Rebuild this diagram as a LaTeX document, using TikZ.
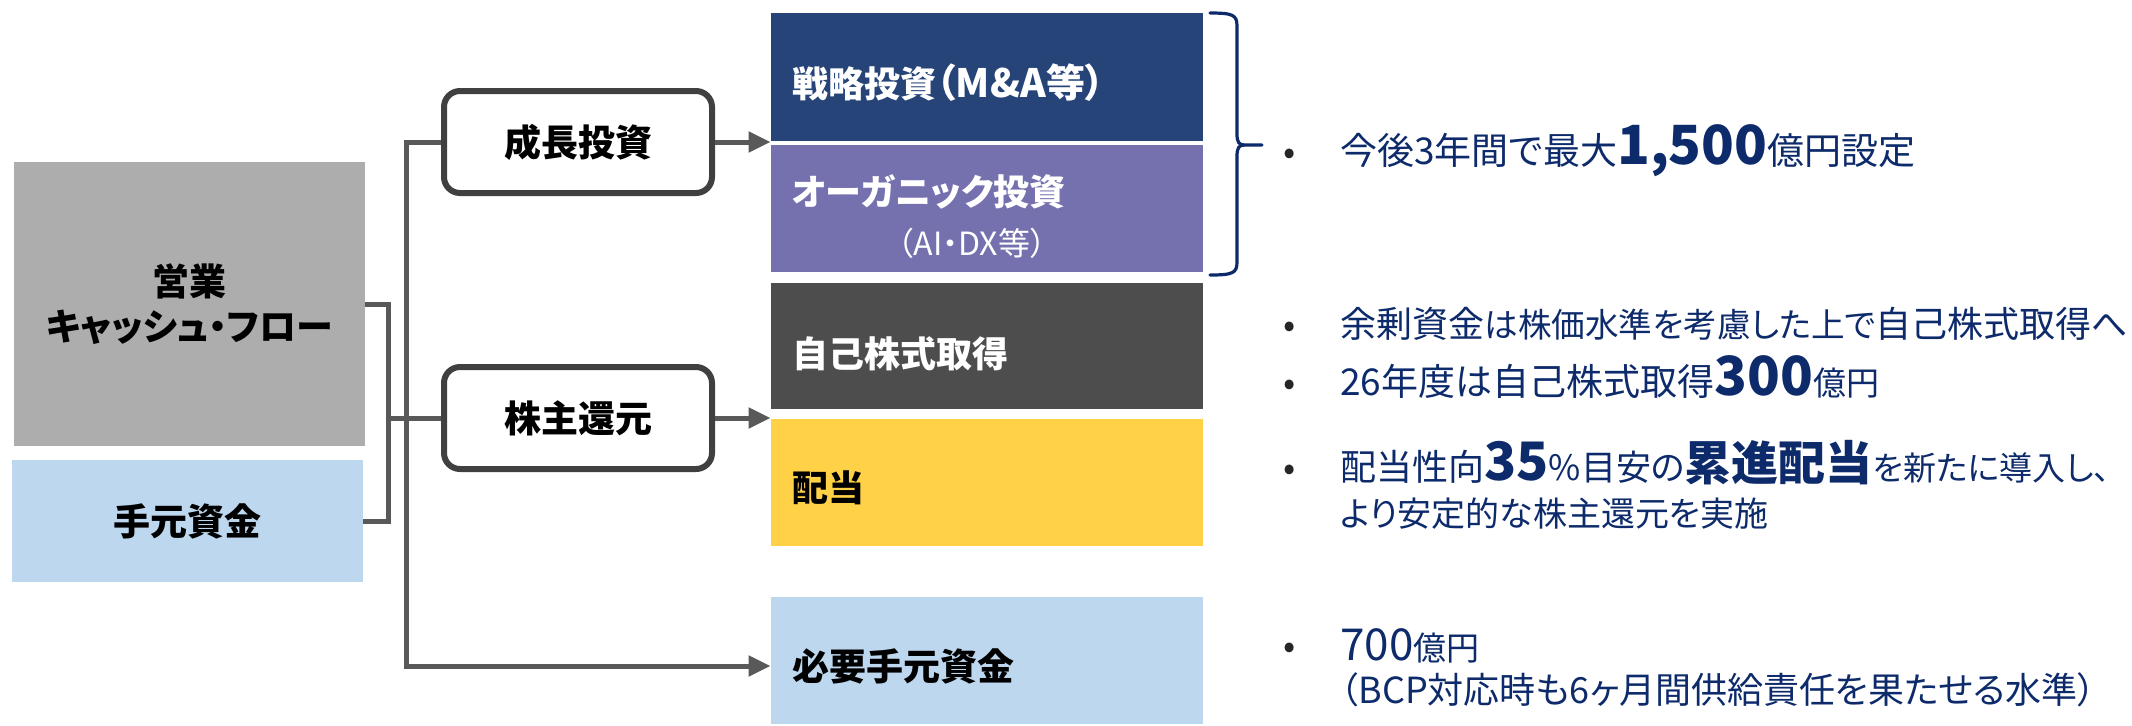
\documentclass[tikz,border=0pt]{standalone}
\usepackage{fontspec}
\setmainfont{Noto Sans CJK JP}[RawFeature=+palt]
\usetikzlibrary{arrows.meta}
\definecolor{cGray}{HTML}{ADADAD}
\definecolor{cLight}{HTML}{BDD7EE}
\definecolor{cNavy}{HTML}{264478}
\definecolor{cPurple}{HTML}{7471AE}
\definecolor{cDark}{HTML}{4D4D4D}
\definecolor{cYellow}{HTML}{FFD147}
\definecolor{cBorder}{HTML}{404040}
\definecolor{cLine}{HTML}{595959}
\definecolor{cText}{HTML}{0D2A6B}
\definecolor{cBullet}{HTML}{262626}
\newcommand{\fsz}[1]{\fontsize{#1}{#1}\selectfont}
\begin{document}
\begin{tikzpicture}[x=0.5pt,y=-0.5pt,
  box/.style={rectangle, inner sep=0pt, draw=none},
  rbox/.style={rectangle, draw=cBorder, line width=3pt, rounded corners=8pt, fill=white,
    minimum width=134pt, minimum height=51pt, inner sep=0pt, font=\bfseries\fsz{18.5}},
  conn/.style={draw=cLine, line width=2.5pt},
  tip/.style={-{Triangle[length=11pt,width=10pt]}},
  intext/.style={anchor=west, inner sep=0pt},
  rtext/.style={anchor=base west, inner sep=0pt, text=cText},
  bul/.style={anchor=base, inner sep=0pt, text=cBullet, font=\fsz{18}},
  brace/.style={draw=cText, line width=1.6pt, line cap=round}]
\useasboundingbox (0,0) rectangle (2132,725);
% left column
\node[box, fill=cGray, minimum width=175.5pt, minimum height=142pt, align=center,
  font=\bfseries\fontsize{18.5}{22.5}\selectfont] (cf) at (189.5,304)
  {営業\\キャッシュ・フロー};
\node[box, fill=cLight, minimum width=175.5pt, minimum height=61pt,
  font=\bfseries\fsz{18.5}] (hand) at (187.5,521) {手元資金};
% rounded boxes
\node[rbox] (grow) at (578,142) {成長投資};
\node[rbox] (share) at (578,418) {株主還元};
% coloured boxes
\node[box, fill=cNavy, minimum width=216pt, minimum height=64pt] (strat) at (987,77) {};
\node[box, fill=cPurple, minimum width=216pt, minimum height=63.5pt] (org) at (987,208.5) {};
\node[box, fill=cDark, minimum width=216pt, minimum height=63pt] (buy) at (987,346) {};
\node[box, fill=cYellow, minimum width=216pt, minimum height=63.5pt] (div) at (987,482.5) {};
\node[box, fill=cLight, minimum width=216pt, minimum height=63.5pt] (need) at (987,660.5) {};
% texts in coloured boxes
\node[intext, text=white, font=\bfseries\fsz{18}] (stratT) at (792,83) {戦略投資{\fsz{19.5}（M\&A等）}};
\node[intext, text=white, font=\bfseries\fsz{18}] (orgT) at (792,192) {オーガニック投資};
\node[anchor=center, inner sep=0pt, text=white, font=\fsz{16}] (orgT2) at (972,243) {（AI・DX等）};
\node[intext, text=white, font=\bfseries\fsz{18}] (buyT) at (792,354) {自己株式取得};
\node[intext, text=black, font=\bfseries\fsz{18}] (divT) at (792,488) {配当};
\node[intext, text=black, font=\bfseries\fsz{18.5}] (needT) at (792,666) {必要手元資金};
% connectors
\coordinate (brk) at (388,0);
\coordinate (trunkBot) at (406,666);
\draw[conn] (cf.east) -| (brk |- hand.east) -- (hand.east);
\draw[conn] (share.west -| brk) -- (share.west);
\draw[conn, tip] (grow.west) -| (trunkBot) -- (trunkBot -| need.west);
\draw[conn, tip] (grow.east) -- (grow.east -| strat.west);
\draw[conn, tip] (share.east) -- (share.east -| div.west);
% brace
\draw[brace] (1210,13) .. controls (1233,13) and (1237,15) .. (1237,26) -- (1237,134)
  .. controls (1237,142) and (1239,145) .. (1244,145) -- (1262,145);
\draw[brace] (1244,145) .. controls (1239,145) and (1237,148) .. (1237,156) -- (1237,262)
  .. controls (1237,273) and (1233,275) .. (1210,275);
% bullets
\node[bul] (b1) at (1290,164) {•};
\node[bul] (b2) at (1290,337) {•};
\node[bul] (b3) at (1290,395) {•};
\node[bul] (b4) at (1290,480) {•};
\node[bul] (b5) at (1290,658) {•};
% right texts
\node[rtext] (t1) at (1340,164)
  {\fsz{18.5}今後3年間で最大{\bfseries\fsz{27}1,500}億円設定};
\node[rtext] (t2) at (1340,337)
  {\fsz{18}余剰資金{\fsz{16.8}は株価水準を考慮した上で}自己株式取得へ};
\node[rtext] (t3) at (1340,395)
  {\fsz{18.5}26年度は自己株式取得{\bfseries\fsz{27}300}{\fsz{16.5}億円}};
\node[rtext] (t4) at (1340,480)
  {\fsz{18}配当性向{\bfseries\fsz{26.5}35}{\fsz{17.5}\%目安の}{\bfseries\fsz{23.5}累進配当}{\fsz{16.5}を新たに導入し、}};
\node[rtext] (t5) at (1340,526)
  {\fsz{17}より安定的な株主還元を実施};
\node[rtext] (t6) at (1340,660)
  {{\fsz{22}700}\fsz{16.5}億円};
\node[rtext] (t7) at (1340,703)
  {\fsz{18}（BCP対応時も6ヶ月間供給責任を果たせる水準）};
\end{tikzpicture}
\end{document}
